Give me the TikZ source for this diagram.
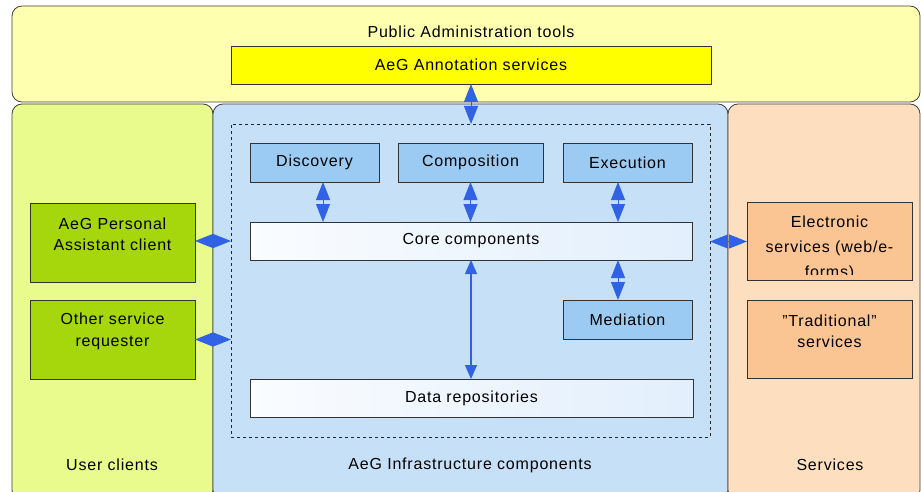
\documentclass[tikz,border=0pt]{standalone}
\usepackage{fontspec}
\setmainfont{Liberation Sans}[LetterSpace=5]
\usetikzlibrary{calc}
\usetikzlibrary{arrows.meta}
\definecolor{tools-yellow}{HTML}{FFFFB0}
\definecolor{anno-yellow}{HTML}{FFFF00}
\definecolor{client-green}{HTML}{E8FB8C}
\definecolor{clientbox-green}{HTML}{A6D60C}
\definecolor{infra-blue}{HTML}{C6E0F8}
\definecolor{comp-blue}{HTML}{9BCBF2}
\definecolor{store-light}{HTML}{FAFCFF}
\definecolor{store-blue}{HTML}{E2EFFC}
\definecolor{svc-orange}{HTML}{FDDFC0}
\definecolor{svcbox-orange}{HTML}{FAC592}
\definecolor{arrow-blue}{HTML}{3162E6}
\tikzstyle{panel}=[draw=black!75,line width=0.8pt,rounded corners=10pt]
\tikzstyle{box}=[draw=black!80,line width=0.9pt,inner sep=0pt,outer sep=0pt]
\tikzstyle{compbox}=[box,fill=comp-blue,minimum width=129pt,minimum height=39pt]
\tikzstyle{storebox}=[box,left color=store-light,right color=store-blue,minimum height=38pt]
\tikzstyle{clientbox}=[box,fill=clientbox-green,minimum width=165pt,minimum height=79pt]
\tikzstyle{svcbox}=[box,fill=svcbox-orange,minimum width=165pt,minimum height=78pt]
\tikzstyle{biarrow}=[arrow-blue,line width=1pt,arrows={Triangle[width=14pt,length=18pt]-Triangle[width=14pt,length=18pt]}]
\tikzstyle{longarrow}=[arrow-blue,line width=1.2pt,arrows={Triangle[width=12pt,length=14pt]-Triangle[width=12pt,length=14pt]}]
\newcommand{\sidebox}[4]{ % style, name, position, text
	\node[#1] (#2) at #3 {};
	\node[align=center,yshift=8pt] (#2-text) at (#2) {#4};
}

\begin{document}
\begin{tikzpicture}[x=1pt,y=-1pt,font=\fontsize{16}{21.5}\selectfont]
\useasboundingbox (0,0) rectangle (921,492);
\clip (0,0) rectangle (921,492);
% panels
\draw[panel,fill=tools-yellow] (12,6) rectangle (920,102);
\draw[panel,fill=client-green] (12,104) rectangle (213,500);
\draw[panel,fill=infra-blue] (213,104) rectangle (728,500);
\draw[panel,fill=svc-orange] (728,104) rectangle (920,500);
\node (tools) at (471,32) {Public Administration tools};
\node (clients) at (112,465) {User clients};
\node (infra-label) at (470,465) {AeG Infrastructure components};
\node (services) at (830,465) {Services};
% annotation services
\node[box,fill=anno-yellow,minimum width=480pt,minimum height=38pt] (anno) at (471,65) {AeG Annotation services};
% infrastructure components
\node[box,draw=black!85,dashed,fill=none,minimum width=479pt,minimum height=313pt] (infra) at (470.5,280.5) {};
\node[compbox] (disc) at (314.5,162.5) {Discovery};
\node[compbox,minimum width=145pt] (comp) at (470.5,162.5) {Composition};
\node[compbox] (exec) at (627.5,162.5) {Execution};
\node[storebox,minimum width=442pt] (core) at (471,241) {Core components};
\node[compbox] (med) at (627.5,319.5) {Mediation};
\node[storebox,minimum width=443pt] (data) at (471.5,398) {Data repositories};
% clients and services
\sidebox{clientbox}{assistant}{(112.5,242.5)}{AeG Personal\\Assistant client}
\sidebox{clientbox}{requester}{(112.5,339.5)}{Other service\\requester}
\node[svcbox] (elec) at (829.5,241.5) {};
\begin{scope}
	\clip (747,203) rectangle (912,274);
	\node[align=center,font=\fontsize{16}{25}\selectfont] (elec-text) at (829.5,248.5) {Electronic\\services (web/e-\\forms)};
\end{scope}
\sidebox{svcbox}{trad}{(829.5,339.5)}{{\char34}Traditional{\char34}\\services}
% arrows
\draw[biarrow] (anno.south) -- (anno.south |- infra.north);
\draw[biarrow] ([xshift=8.5pt]disc.south) -- ([xshift=8.5pt]disc.south |- core.north);
\draw[biarrow] (comp.south) -- (comp.south |- core.north);
\draw[biarrow] ([xshift=-9.5pt]exec.south) -- ([xshift=-9.5pt]exec.south |- core.north);
\draw[biarrow] ([xshift=-9.5pt]med.north) -- ([xshift=-9.5pt]med.north |- core.south);
\draw[longarrow] (core.south) -- (core.south |- data.north);
\draw[biarrow] ([yshift=1.5pt]assistant.east) -- ([yshift=1.5pt]assistant.east -| infra.west);
\draw[biarrow] (requester.east) -- (requester.east -| infra.west);
\draw[biarrow] (elec.west) -- (elec.west -| infra.east);
\end{tikzpicture}
\end{document}
